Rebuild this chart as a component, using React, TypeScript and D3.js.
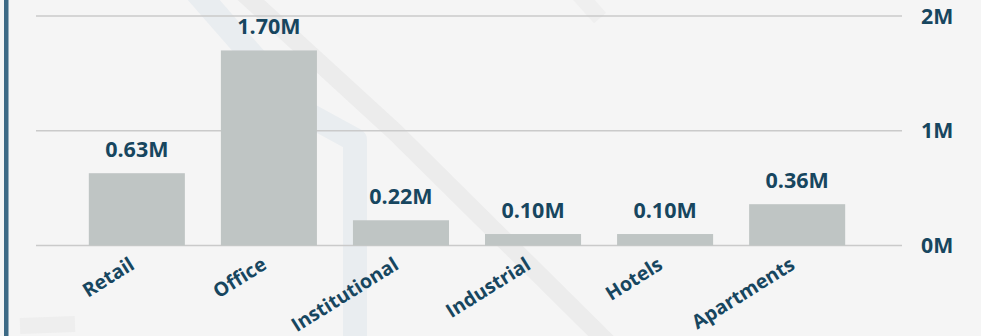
import React from "react";
import * as d3 from "d3";

// Sales volume by property type
const categories = ["Retail", "Office", "Institutional", "Industrial", "Hotels", "Apartments"];
const values = [0.63, 1.7, 0.22, 0.1, 0.1, 0.36]; // millions
const yTicks = [0, 1, 2];

const W = 981;
const H = 336;
const TEXT = "#17465f";
const BAR = "#bfc5c4";
const GRID = "#cacaca";
const FONT = "'Open Sans', 'Noto Sans', sans-serif";

export default function App() {
  const x = d3
    .scaleBand<string>()
    .domain(categories)
    .range([36, 898])
    .paddingInner(0.2727)
    .paddingOuter(0.4);
  const y = d3.scaleLinear().domain([0, 2]).range([245.5, 16]);
  const gridX0 = 36;
  const gridX1 = 902;

  const fmt = (v: number) => `${v.toFixed(2)}M`;

  return (
    <div style={{ position: "absolute", left: 0, top: 0 }}>
      <svg width={W} height={H} style={{ display: "block" }}>
        <rect x={0} y={0} width={W} height={H} fill="#f5f5f5" />
        {/* faint watermark strokes */}
        <g fill="none" strokeLinejoin="round">
          <path d="M 195 -10 L 300 110 L 355 140 L 355 340" stroke="#e9edf0" strokeWidth={24} />
          <path d="M 240 -10 L 395 132 L 610 345" stroke="#ececec" strokeWidth={18} />
          <path d="M 575 -10 L 600 18" stroke="#efefef" strokeWidth={16} />
          <path d="M 20 326 L 75 324" stroke="#eeeeee" strokeWidth={16} />
        </g>
        <rect x={4} y={0} width={4.5} height={H} fill="#3d6a85" />

        {/* gridlines */}
        {yTicks.map((t) => (
          <line
            key={t}
            x1={gridX0}
            x2={gridX1}
            y1={y(t)}
            y2={y(t)}
            stroke={GRID}
            strokeWidth={1.3}
          />
        ))}

        {/* bars */}
        {categories.map((c, i) => (
          <rect
            key={c}
            x={x(c)}
            y={y(values[i])}
            width={x.bandwidth()}
            height={y(0) - y(values[i])}
            fill={BAR}
          />
        ))}

        {/* value labels */}
        {categories.map((c, i) => (
          <text
            key={c}
            x={(x(c) ?? 0) + x.bandwidth() / 2}
            y={y(values[i]) - 16}
            textAnchor="middle"
            fontFamily={FONT}
            fontWeight={700}
            fontSize={21.5}
            fill={TEXT}
          >
            {fmt(values[i])}
          </text>
        ))}

        {/* y-axis labels on the right */}
        {yTicks.map((t) => (
          <text
            key={t}
            x={921}
            y={y(t) + 7.6}
            fontFamily={FONT}
            fontWeight={700}
            fontSize={21.3}
            fill={TEXT}
          >
            {`${t}M`}
          </text>
        ))}

        {/* rotated category labels */}
        {categories.map((c) => {
          const cx = (x(c) ?? 0) + x.bandwidth() / 2 - 1;
          const cy = 268;
          return (
            <text
              key={c}
              transform={`translate(${cx},${cy}) rotate(-32)`}
              textAnchor="end"
              fontFamily={FONT}
              fontWeight={700}
              fontSize={19.5}
              fill={TEXT}
            >
              {c}
            </text>
          );
        })}
      </svg>
    </div>
  );
}
